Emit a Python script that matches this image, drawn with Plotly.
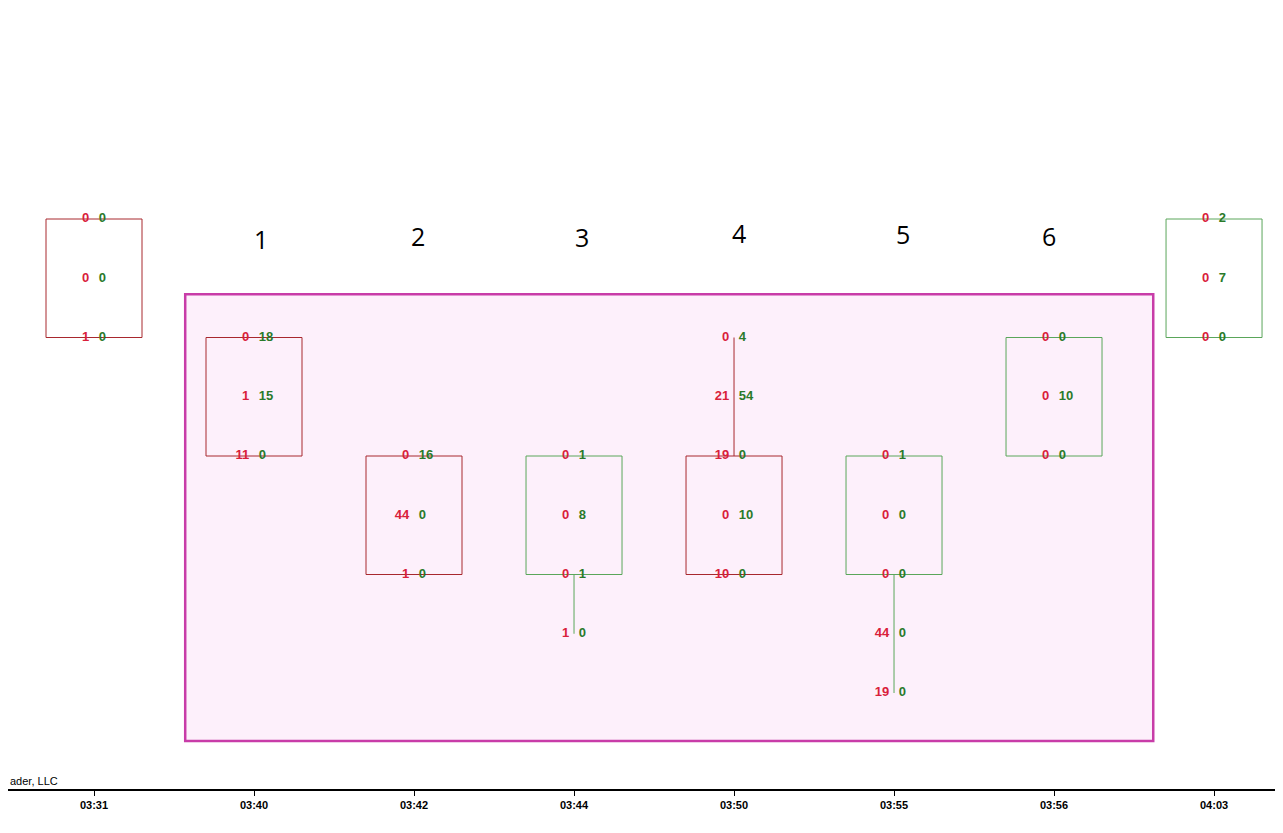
import plotly.graph_objects as go

# ---- data ----
times = ["03:31", "03:40", "03:42", "03:44", "03:50", "03:55", "03:56", "04:03"]
# price levels in ticks (0 = lowest level shown)
opens  = [8, 6, 4, 2, 4, 2, 4, 6]
closes = [6, 4, 2, 4, 2, 4, 6, 8]
highs  = [8, 6, 4, 4, 6, 4, 6, 8]
lows   = [6, 4, 2, 1, 2, 0, 4, 6]
# footprint rows per candle: (level, bid, ask)
rows = [
    [(8, 0, 0), (7, 0, 0), (6, 1, 0)],
    [(6, 0, 18), (5, 1, 15), (4, 11, 0)],
    [(4, 0, 16), (3, 44, 0), (2, 1, 0)],
    [(4, 0, 1), (3, 0, 8), (2, 0, 1), (1, 1, 0)],
    [(6, 0, 4), (5, 21, 54), (4, 19, 0), (3, 0, 10), (2, 10, 0)],
    [(4, 0, 1), (3, 0, 0), (2, 0, 0), (1, 44, 0), (0, 19, 0)],
    [(6, 0, 0), (5, 0, 10), (4, 0, 0)],
    [(8, 0, 2), (7, 0, 7), (6, 0, 0)],
]
swing_labels = ["1", "2", "3", "4", "5", "6"]
swing_x = [1.045, 2.025, 3.05, 4.03, 5.055, 5.97]
swing_y = [7.66, 7.71, 7.70, 7.76, 7.75, 7.71]
zone_x = [0.57, 6.62]
zone_y = [-0.81, 6.73]

UP_COL = "#5aa65a"
DN_COL = "#a8282e"
BID_COL = "#d9203a"
ASK_COL = "#2a7a2a"
FONT = "Liberation Sans Narrow, Arial Narrow, Liberation Sans, Arial"

fig = go.Figure()
shapes = []

# highlighted zone
shapes.append(dict(type="rect", xref="x", yref="y",
                   x0=zone_x[0], x1=zone_x[1], y0=zone_y[0], y1=zone_y[1],
                   fillcolor="#fdf0fb", line=dict(color="#c83ca8", width=2.5),
                   layer="below"))

half_w = 0.3
for i, t in enumerate(times):
    col = UP_COL if closes[i] > opens[i] else DN_COL
    top = max(opens[i], closes[i])
    bot = min(opens[i], closes[i])
    # wicks
    if highs[i] > top:
        fig.add_trace(go.Scatter(x=[i, i], y=[top, highs[i]], mode="lines",
                                 line=dict(color=col, width=1), hoverinfo="skip",
                                 showlegend=False))
    if lows[i] < bot:
        fig.add_trace(go.Scatter(x=[i, i], y=[bot, lows[i]], mode="lines",
                                 line=dict(color=col, width=1), hoverinfo="skip",
                                 showlegend=False))
    # body
    fig.add_trace(go.Scatter(x=[i - half_w, i + half_w, i + half_w, i - half_w, i - half_w],
                             y=[bot, bot, top, top, bot], mode="lines",
                             line=dict(color=col, width=1), hoverinfo="skip",
                             showlegend=False))
    lv = [r[0] for r in rows[i]]
    bids = [str(r[1]) for r in rows[i]]
    asks = [str(r[2]) for r in rows[i]]
    fig.add_trace(go.Scatter(x=[i - 0.03] * len(lv), y=lv, mode="text", text=bids,
                             textposition="middle left",
                             textfont=dict(color=BID_COL, size=13, family=FONT, weight="bold"),
                             hoverinfo="skip", showlegend=False))
    fig.add_trace(go.Scatter(x=[i + 0.03] * len(lv), y=lv, mode="text", text=asks,
                             textposition="middle right",
                             textfont=dict(color=ASK_COL, size=13, family=FONT, weight="bold"),
                             hoverinfo="skip", showlegend=False))

annotations = []
for lab, sx, sy in zip(swing_labels, swing_x, swing_y):
    annotations.append(dict(x=sx, y=sy, xref="x", yref="y", text=lab, showarrow=False,
                            font=dict(size=25, color="#000000",
                                      family="Open Sans, Noto Sans, Liberation Sans")))
annotations.append(dict(x=0, y=0, xref="paper", yref="paper", xanchor="left",
                        yanchor="bottom", text="ader, LLC", showarrow=False,
                        font=dict(size=11, color="#000000", family=FONT)))

fig.update_layout(
    width=1283, height=833,
    margin=dict(l=0, r=0, t=0, b=52),
    paper_bgcolor="#ffffff", plot_bgcolor="#ffffff",
    shapes=shapes, annotations=annotations,
    xaxis=dict(range=[-0.5375, 7.481], tickmode="array",
               tickvals=list(range(len(times))), ticktext=times,
               showgrid=False, zeroline=False, showline=True, linecolor="#000000",
               linewidth=1.5, ticks="outside", ticklen=5, tickcolor="#000000",
               tickfont=dict(size=11, color="#000000", family=FONT, weight="bold"),
               fixedrange=True),
    yaxis=dict(range=[-1.62, 11.561], showgrid=False, zeroline=False,
               showticklabels=False, showline=False, fixedrange=True),
    showlegend=False,
)

fig.write_html("out.html")
